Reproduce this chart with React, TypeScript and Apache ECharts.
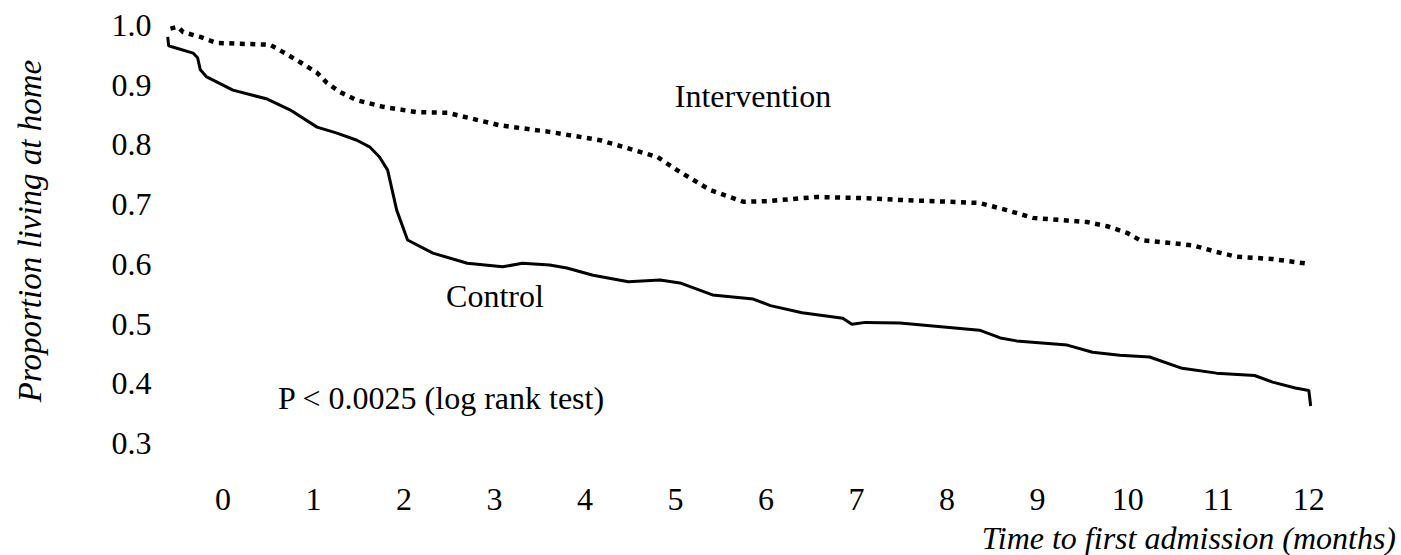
import React, { useEffect, useRef } from "react";
import * as echarts from "echarts";

const tickMonths = [0, 1, 2, 3, 4, 5, 6, 7, 8, 9, 10, 11, 12];

const controlMonths = [-0.61, -0.6, -0.51, -0.33, -0.28, -0.25, -0.18, 0.11, 0.49, 0.74, 1.04, 1.26, 1.48, 1.62, 1.73, 1.82, 1.92, 2.04, 2.32, 2.7, 3.09, 3.31, 3.61, 3.8, 4.09, 4.48, 4.83, 5.05, 5.41, 5.86, 6.05, 6.4, 6.85, 6.95, 7.1, 7.48, 8.36, 8.59, 8.77, 9.33, 9.61, 9.91, 10.24, 10.6, 10.98, 11.4, 11.6, 11.85, 12.0, 12.02];
const controlValues = [0.98, 0.965, 0.961, 0.953, 0.945, 0.925, 0.913, 0.891, 0.876, 0.858, 0.829, 0.819, 0.807, 0.796, 0.779, 0.757, 0.69, 0.64, 0.618, 0.601, 0.595, 0.601, 0.598, 0.593, 0.581, 0.57, 0.573, 0.568, 0.548, 0.541, 0.53, 0.518, 0.509, 0.499, 0.502, 0.501, 0.489, 0.476, 0.471, 0.464, 0.452, 0.447, 0.444, 0.425, 0.417, 0.413, 0.402, 0.392, 0.388, 0.362];

const interventionMonths = [-0.58, -0.5, -0.44, -0.25, -0.07, 0.3, 0.52, 0.66, 0.85, 1.04, 1.15, 1.29, 1.48, 1.77, 2.14, 2.48, 3.06, 3.61, 4.17, 4.42, 4.8, 5.05, 5.38, 5.75, 6.01, 6.56, 7.12, 7.48, 8.03, 8.36, 8.66, 8.95, 9.55, 9.77, 9.99, 10.13, 10.72, 10.98, 11.2, 11.6, 12.0];
const interventionValues = [0.994, 0.997, 0.988, 0.98, 0.97, 0.968, 0.967, 0.955, 0.938, 0.92, 0.903, 0.888, 0.874, 0.863, 0.854, 0.853, 0.832, 0.821, 0.807, 0.796, 0.779, 0.754, 0.724, 0.704, 0.705, 0.712, 0.71, 0.707, 0.704, 0.702, 0.69, 0.677, 0.67, 0.663, 0.652, 0.64, 0.631, 0.62, 0.612, 0.608, 0.6];

const SERIF = "Liberation Serif";

export default function App() {
  const ref = useRef<HTMLDivElement>(null);
  useEffect(() => {
    if (!ref.current) return;
    const chart = echarts.init(ref.current, null, { renderer: "svg" });
    const ctrl = controlMonths.map((m, i) => [m, controlValues[i]]);
    const intv = interventionMonths.map((m, i) => [m, interventionValues[i]]);
    const txt = (text: string, x: number, y: number, italic = false, align = "center", rotation = 0, size = 32) => ({
      type: "text",
      x,
      y,
      rotation,
      style: {
        text,
        fontFamily: SERIF,
        fontSize: size,
        fontStyle: italic ? "italic" : "normal",
        fill: "#000",
        align,
        verticalAlign: "middle",
      },
    });
    chart.setOption({
      animation: false,
      backgroundColor: "#ffffff",
      textStyle: { fontFamily: SERIF },
      grid: { left: 159.6, right: 65, top: 25, bottom: 112, containLabel: false },
      xAxis: {
        type: "value",
        min: -0.7,
        max: 12.3,
        axisLine: { show: false },
        axisTick: { show: false },
        splitLine: { show: false },
        axisLabel: {
          customValues: tickMonths,
          margin: 40,
          color: "#000",
          fontFamily: SERIF,
          fontSize: 32,
        },
      },
      yAxis: {
        type: "value",
        min: 0.3,
        max: 1.0,
        interval: 0.1,
        axisLine: { show: false },
        axisTick: { show: false },
        splitLine: { show: false },
        axisLabel: {
          margin: 8,
          color: "#000",
          fontFamily: SERIF,
          fontSize: 32,
          formatter: (v: number) => v.toFixed(1),
        },
      },
      series: [
        { name: "Control", type: "line", data: ctrl, showSymbol: false, clip: false, lineStyle: { color: "#000", width: 3 } },
        { name: "Intervention", type: "line", data: intv, showSymbol: false, clip: false, lineStyle: { color: "#000", width: 4.5, type: [5, 5.5], cap: "butt" } },
      ],
      graphic: [
        txt("Intervention", 753, 96),
        txt("Control", 495, 296),
        txt("P < 0.0025 (log rank test)", 441, 398),
        txt("Proportion living at home", 30, 231, true, "center", Math.PI / 2, 33),
        txt("Time to first admission (months)", 1396, 538, true, "right"),
      ],
    });
    return () => chart.dispose();
  }, []);
  return (
    <div ref={ref} style={{ position: "fixed", left: 0, top: 0, width: 1401, height: 555, background: "#fff" }} />
  );
}
